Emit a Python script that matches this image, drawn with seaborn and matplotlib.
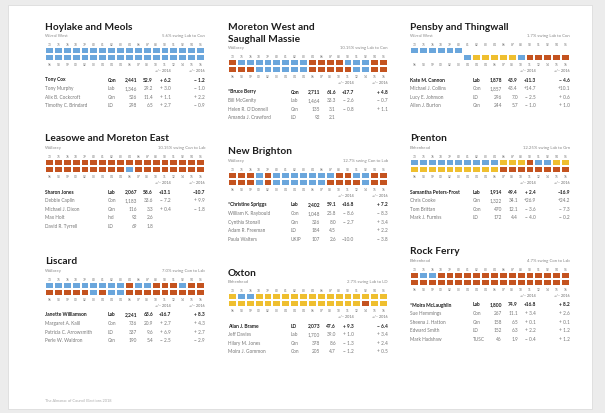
import numpy as np
import matplotlib
matplotlib.use("Agg")
import matplotlib.pyplot as plt
from matplotlib.colors import ListedColormap
from matplotlib.patches import Rectangle
import seaborn as sns

# election years shown in the two halves of each strip
top_years = ['73', '75', '76', '78', '79', '80', '81', '82', '83', '84', '86', '87', '88', '90', '91', '92', '94', '95']
bottom_years = ['96', '98', '99', '00', '02', '03', '04', '04', '04', '06', '07', '08', '10', '11', '12', '14', '15', '16']

# C = Con, L = Lab, D = LD, - = no result
hoylake_top = "CCCCCCCCCCCCCCCCCC"
hoylake_bottom = "CCCCCCCCCCCCCCCCCC"
hoylake_rows = [
    ("Tony Cox", "Con", "2,441", "52.9", "+ 6.2", "− 1.2"),
    ("Tony Murphy", "Lab", "1,346", "29.2", "+ 3.0", "− 1.0"),
    ("Alix B. Cockcroft", "Grn", "526", "11.4", "+ 1.1", "+ 2.2"),
    ("Timothy C. Brindard", "LD", "298", "6.5", "+ 2.7", "− 0.9"),
]

moreton_top = "LCCCCCCCCLLLLCCCLL"
moreton_bottom = "LLLCCCCCCLLLLLCCLL"
moreton_rows = [
    ("*Bruce Berry", "Con", "2,711", "61.6", "+17.7", "+ 4.8"),
    ("Bill McGenity", "Lab", "1,464", "33.3", "− 2.6", "− 0.7"),
    ("Helen R. O'Donnell", "Grn", "135", "3.1", "− 0.8", "+ 1.1"),
    ("Amanda J. Crawford", "LD", "92", "2.1", "", ""),
]

pensby_top = "CCCCCC------------"
pensby_bottom = "------CDDDDDCLLLLL"
pensby_rows = [
    ("Kate M. Cannon", "Lab", "1,878", "43.9", "+11.3", "− 4.6"),
    ("Michael J. Collins", "Con", "1,857", "43.4", "+14.7", "+10.1"),
    ("Lucy E. Johnson", "LD", "296", "7.0", "− 2.5", "+ 0.6"),
    ("Allen J. Burton", "Grn", "244", "5.7", "− 1.0", "+ 1.0"),
]

leasowe_top = "LLLLLLLLLLLLLLLLLL"
leasowe_bottom = "LLLLLLLLLCLLLLLLLL"
leasowe_rows = [
    ("Sharon Jones", "Lab", "2,067", "58.6", "+13.1", "−10.7"),
    ("Debbie Caplin", "Con", "1,183", "33.6", "− 7.2", "+ 9.9"),
    ("Michael J. Dixon", "Grn", "116", "3.3", "+ 0.4", "− 1.8"),
    ("Max Holt", "Ind", "92", "2.6", "", ""),
    ("David R. Tyrrell", "LD", "69", "1.8", "", ""),
]

brighton_top = "LLLCLCCCCCCCLLCCLL"
brighton_bottom = "LLLCLCCCCCCLLLLCLL"
brighton_rows = [
    ("*Christine Spriggs", "Lab", "2,402", "59.1", "+16.8", "+ 7.2"),
    ("William K. Raybould", "Con", "1,048", "25.8", "− 8.6", "− 8.3"),
    ("Cynthia Stonall", "Grn", "326", "8.0", "− 2.7", "+ 3.4"),
    ("Adam R. Freeman", "LD", "184", "4.5", "", "+ 2.2"),
    ("Paula Walters", "UKIP", "107", "2.6", "−10.0", "− 3.8"),
]

prenton_top = "CCCCCCCCCCDDDLCCDD"
prenton_bottom = "DDDDDDDDDDLLLLLLLL"
prenton_rows = [
    ("Samantha Peters-Frost", "Lab", "1,914", "49.4", "+ 2.4", "−16.9"),
    ("Chris Cooke", "Grn", "1,322", "34.1", "+26.9", "+24.2"),
    ("Tom Brittan", "Con", "470", "12.1", "− 3.6", "− 7.3"),
    ("Mark J. Furniss", "LD", "172", "4.4", "− 4.0", "− 0.2"),
]

liscard_top = "CCCCCCCCCLCCLLLCLL"
liscard_bottom = "LLLLLCLCCLLLLLLLLL"
liscard_rows = [
    ("Janette Williamson", "Lab", "2,241", "63.6", "+16.7", "+ 8.3"),
    ("Margaret A. Kalil", "Con", "736", "20.9", "+ 2.7", "+ 4.3"),
    ("Patricia C. Arrowsmith", "LD", "337", "9.6", "+ 6.9", "+ 2.7"),
    ("Perle W. Waldron", "Grn", "190", "5.4", "− 2.5", "− 2.9"),
]

oxton_top = "DCCDDDDDDDDDDDDDDD"
oxton_bottom = "DDDDDDDDDDDDDDDLDD"
oxton_rows = [
    ("Allan J. Brame", "LD", "2,073", "47.6", "+ 9.3", "− 6.4"),
    ("Jeff Davies", "Lab", "1,700", "39.0", "+ 1.0", "+ 3.4"),
    ("Hilary M. Jones", "Grn", "378", "8.6", "− 1.3", "+ 2.4"),
    ("Moira J. Gommon", "Con", "205", "4.7", "− 1.2", "+ 0.5"),
]

rock_top = "LCCLLLLLLLLLLLLLLL"
rock_bottom = "LLLLLLLLLLLLLLLLLL"
rock_rows = [
    ("*Moira McLaughlin", "Lab", "1,800", "74.9", "+16.8", "+ 8.2"),
    ("Sue Hemmings", "Con", "267", "11.1", "+ 3.4", "+ 2.6"),
    ("Sheena J. Hatton", "Grn", "158", "6.5", "+ 0.1", "+ 0.1"),
    ("Edward Smith", "LD", "152", "6.3", "+ 2.2", "+ 1.2"),
    ("Mark Hadshaw", "TUSC", "46", "1.9", "− 0.4", "+ 1.2"),
]

wards = [
    # title lines, district, swing, top, bottom, rows, left px, title y px
    (["Hoylake and Meols"], "Wirral West", "5.6% swing Lab to Con", hoylake_top, hoylake_bottom, hoylake_rows, 45, 27),
    (["Leasowe and Moreton East"], "Wallasey", "10.15% swing Con to Lab", leasowe_top, leasowe_bottom, leasowe_rows, 45, 139),
    (["Liscard"], "Wallasey", "7.0% swing Con to Lab", liscard_top, liscard_bottom, liscard_rows, 45, 262),
    (["Moreton West and", "Saughall Massie"], "Wallasey", "10.15% swing Lab to Con", moreton_top, moreton_bottom, moreton_rows, 228, 39),
    (["New Brighton"], "Wallasey", "12.7% swing Con to Lab", brighton_top, brighton_bottom, brighton_rows, 228, 152),
    (["Oxton"], "Birkenhead", "2.7% swing Lab to LD", oxton_top, oxton_bottom, oxton_rows, 228, 273),
    (["Pensby and Thingwall"], "Wirral West", "1.7% swing Lab to Con", pensby_top, pensby_bottom, pensby_rows, 410, 27),
    (["Prenton"], "Birkenhead", "12.25% swing Lab to Grn", prenton_top, prenton_bottom, prenton_rows, 410, 139),
    (["Rock Ferry"], "Birkenhead", "4.7% swing Con to Lab", rock_top, rock_bottom, rock_rows, 410, 252),
]

party_code = {'C': 0, 'L': 1, 'D': 2}
party_colors = ListedColormap(['#6aa6dc', '#c4531f', '#efbf2f'])

sns.set_style("white")
plt.rcParams['font.family'] = ['Lato', 'DejaVu Sans']

W, H = 605, 414
fig = plt.figure(figsize=(W / 100, H / 100), dpi=100)
fig.patch.set_facecolor('#ececec')
fig.patches.append(Rectangle((8 / W, 1 - 410 / H), 584 / W, 404 / H, transform=fig.transFigure,
                             facecolor='white', edgecolor='#dddddd', lw=0.6, zorder=-5))


def fx(x):
    return x / W


def fy(y):
    return 1 - y / H


def txt(x, y, s, **kw):
    fig.text(fx(x), fy(y), s, va='center', **kw)


width = 160
row_gap = 8.6
for lines, district, swing, top, bottom, rows, L, T in wards:
    for k, line in enumerate(lines):
        txt(L, T - 11 * (len(lines) - 1 - k), line, fontsize=7.3, fontweight='bold', color='#1e1e1e')
    txt(L, T + 9, district, fontsize=3.1, color='#888888')
    txt(L + width, T + 9, swing, fontsize=3.1, color='#888888', ha='right')

    grid = np.array([[party_code.get(c, np.nan) for c in top],
                     [party_code.get(c, np.nan) for c in bottom]], dtype=float)
    s_top, s_bot = T + 21, T + 35
    ax = fig.add_axes([fx(L), fy(s_bot), width / W, (s_bot - s_top) / H])
    ax.set_zorder(2)
    sns.heatmap(grid, ax=ax, cmap=party_colors, vmin=-0.5, vmax=2.5, mask=np.isnan(grid),
                cbar=False, linewidths=0.35, linecolor='white',
                xticklabels=False, yticklabels=False, square=False)
    ax.set_facecolor('white')
    for j in range(len(top_years)):
        ax.text(j + 0.5, -0.12, top_years[j], ha='center', va='bottom', fontsize=2.3, color='#777777')
        ax.text(j + 0.5, 2.12, bottom_years[j], ha='center', va='top', fontsize=2.3, color='#777777')

    txt(L + 126, T + 44, "+/– 2014", fontsize=2.7, color='#666666', ha='right')
    txt(L + width, T + 44, "+/– 2016", fontsize=2.7, color='#666666', ha='right')
    for i, (name, party, votes, pct, ch1, ch2) in enumerate(rows):
        y = T + 53 + i * row_gap
        if i == 0:
            style = dict(fontsize=3.5, fontweight='bold', color='#1e1e1e')
        else:
            style = dict(fontsize=3.4, color='#777777')
        txt(L, y, name, **style)
        txt(L + 63, y, party, **style)
        txt(L + 92, y, votes, ha='right', **style)
        txt(L + 108, y, pct, ha='right', **style)
        txt(L + 126, y, ch1, ha='right', **style)
        txt(L + width, y, ch2, ha='right', **style)

txt(45, 401, "The Almanac of Council Elections 2018", fontsize=2.8, color='#aaaaaa')

fig.savefig("out.png", dpi=100, facecolor=fig.get_facecolor())
